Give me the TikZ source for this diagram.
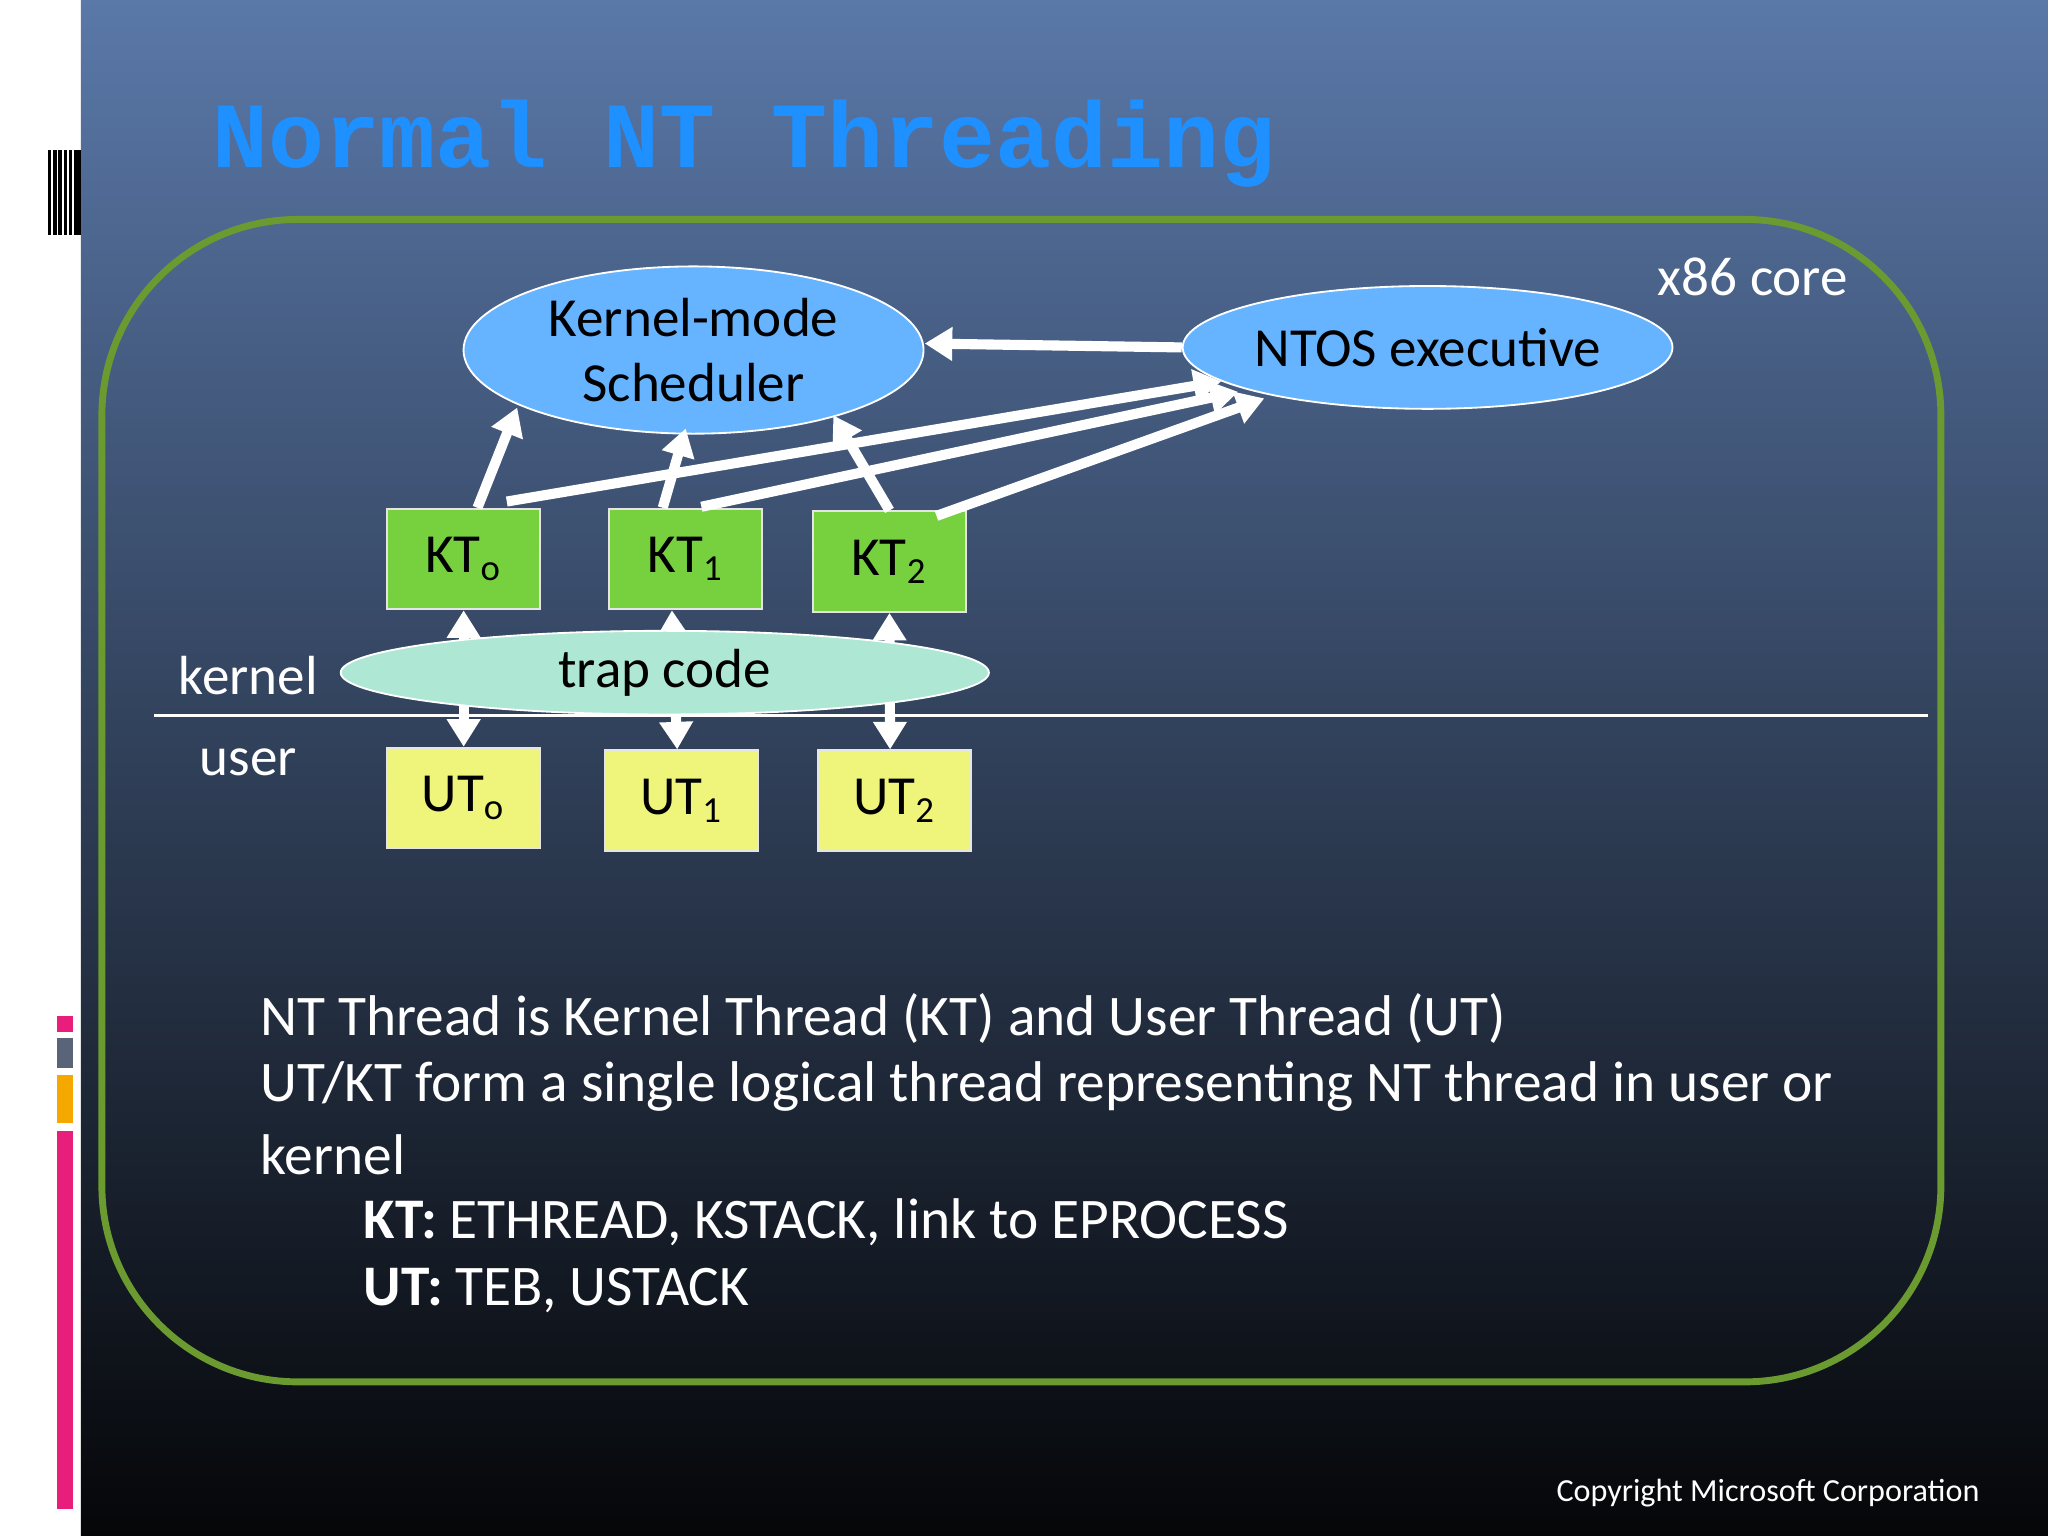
\documentclass[tikz,border=0pt]{standalone}
\usepackage{fontspec}
\setmainfont{Carlito}
\newfontfamily\titlefont{Liberation Mono}
\usetikzlibrary{arrows.meta,shapes.geometric}
\definecolor{bgtop}{HTML}{5A78A8}
\definecolor{bgbot}{HTML}{050608}
\definecolor{frame}{HTML}{6A9A30}
\definecolor{schedblue}{HTML}{66B3FF}
\definecolor{trapgreen}{HTML}{AEE8D4}
\definecolor{ktgreen}{HTML}{77D13F}
\definecolor{utyellow}{HTML}{EEF57A}
\definecolor{titleblue}{HTML}{1E90FF}
\definecolor{barpink}{HTML}{E91E7A}
\definecolor{bargray}{HTML}{5A6478}
\definecolor{barorange}{HTML}{F5A800}
\tikzset{
  ell/.style={ellipse, draw=white, thin, inner sep=0pt, font=\fontsize{12}{14}\selectfont, align=center},
  ktbox/.style={draw=white!80!gray, fill=ktgreen, minimum width=1.17cm, minimum height=0.77cm, inner sep=0pt, font=\fontsize{12}{14}\selectfont},
  utbox/.style={draw=white!80!gray, fill=utyellow, minimum width=1.17cm, minimum height=0.77cm, inner sep=0pt, font=\fontsize{12}{14}\selectfont},
  warr/.style={draw=white, line width=2.2pt, -{Triangle[length=6pt,width=7pt]}},
  darr/.style={draw=white, line width=2.2pt, {Triangle[length=6pt,width=7pt]}-{Triangle[length=6pt,width=7pt]}},
  lbl/.style={text=white, font=\fontsize{12}{14}\selectfont},
  body/.style={text=white, font=\fontsize{12.5}{15}\selectfont, anchor=west}
}
\begin{document}
\begin{tikzpicture}[x=0.01cm,y=-0.01cm]
\useasboundingbox (0,0) rectangle (1568,1176);
\fill[white] (0,0) rectangle (62,1176);
\shade[top color=bgtop, bottom color=bgbot] (62,0) rectangle (1568,1176);
\fill[black] (37,115) rectangle (62,180);
\foreach \x in {40,44,48,52,56}{\draw[white, line width=0.4pt] (\x,115) -- (\x,180);}
\fill[barpink] (44,778) rectangle (56,790);
\fill[bargray] (44,795) rectangle (56,818);
\fill[barorange] (44,823) rectangle (56,860);
\fill[barpink] (44,866) rectangle (56,1155);
\node[anchor=west, text=titleblue, font=\titlefont\bfseries\fontsize{20.3}{24}\selectfont] (title) at (150,110) {Normal NT Threading};
\draw[frame, line width=1.5pt, rounded corners=1.5cm] (78,168) rectangle (1486,1058);
\draw[white, line width=0.6pt] (118,548) -- (1476,548);
\node[ell, fill=schedblue, minimum width=3.52cm, minimum height=1.28cm] (sched) at (531,268) {Kernel-mode\\Scheduler};
\node[ell, fill=schedblue, minimum width=3.68cm, minimum height=0.94cm] (ntos) at (1093,266) {NTOS executive};
\node[ktbox] (kt0) at (355,428) {KT$_\mathrm{o}$};
\node[ktbox] (kt1) at (525,428) {KT$_\mathrm{1}$};
\node[ktbox] (kt2) at (681,430) {KT$_\mathrm{2}$};
\node[utbox] (ut0) at (355,611) {UT$_\mathrm{o}$};
\node[utbox] (ut1) at (522,613) {UT$_\mathrm{1}$};
\node[utbox] (ut2) at (685,613) {UT$_\mathrm{2}$};
\node[lbl] (kl) at (190,517) {kernel};
\node[lbl] (ul) at (190,584) {user};
\node[lbl] (x86) at (1342,212) {x86 core};
\coordinate (n0) at (935,292);
\coordinate (n1) at (948,300);
\coordinate (n2) at (968,305);
\draw[warr] (ntos.west) -- (708,263);
\draw[warr] ([xshift=3pt]kt0.north) -- (396,312);
\draw[warr] ([xshift=-5pt]kt1.north) -- (525,328);
\draw[warr] (kt2.north) -- (638,318);
\draw[warr] (388,384) -- (n0);
\draw[warr] (537,388) -- (n1);
\draw[warr] (717,395) -- (n2);
\draw[darr] (kt0.south) -- (ut0.north);
\draw[darr] ([xshift=-3pt]kt1.south) -- ([xshift=-1pt]ut1.north);
\draw[darr] (kt2.south) -- ([xshift=-1pt]ut2.north);
\node[ell, fill=trapgreen, minimum width=4.96cm, minimum height=0.64cm] (trap) at (509,515) {trap code};
\node[body] (b1) at (187,780) {NT Thread is Kernel Thread (KT) and User Thread (UT)};
\node[body] (b2) at (187,832) {UT/KT form a single logical thread representing NT thread in user or};
\node[body] (b3) at (187,884) {kernel};
\node[body] (b4) at (266,936) {\textbf{KT:} ETHREAD, KSTACK, link to EPROCESS};
\node[body] (b5) at (266,988) {\textbf{UT:} TEB, USTACK};
\node[text=white, font=\fontsize{7}{9}\selectfont, anchor=east] (copy) at (1528,1143) {Copyright Microsoft Corporation};
\end{tikzpicture}
\end{document}
